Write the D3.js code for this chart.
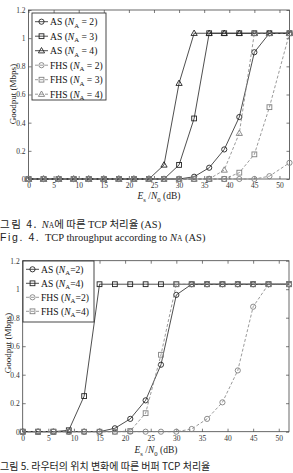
<!DOCTYPE html>
<html>
<head>
<meta charset="utf-8">
<script src="https://cdn.jsdelivr.net/npm/d3@7"></script>
<style>
  body { margin: 0; background: #fff; }
  svg { display: block; }
  .tick text { font-family: "Liberation Serif", serif; font-size: 7.5px; fill: #333; }
  .tick line, .domain { stroke: #444; stroke-width: 0.7; }
</style>
</head>
<body>
<div id="container"></div>
<script>
// x positions (Es/N0, dB), same for both figures
var snr = [0, 3, 6, 9, 12, 15, 18, 21, 24, 27, 30, 33, 36, 39, 42, 45, 48, 52];

// Fig. 4 goodput (Mbps)
var as2 = [0, 0, 0, 0, 0, 0, 0, 0, 0, 0, 0, 0.016, 0.08, 0.21, 0.44, 0.90, 1.035, 1.035];
var as3 = [0, 0, 0, 0, 0, 0, 0, 0, 0, 0, 0.10, 0.43, 1.035, 1.035, 1.035, 1.035, 1.035, 1.035];
var as4 = [0, 0, 0, 0, 0, 0, 0, 0, 0, 0.10, 0.68, 1.035, 1.035, 1.035, 1.035, 1.035, 1.035, 1.035];
var fhs2 = [0, 0, 0, 0, 0, 0, 0, 0, 0, 0, 0, 0, 0, 0, 0, 0, 0.02, 0.115];
var fhs3 = [0, 0, 0, 0, 0, 0, 0, 0, 0, 0, 0, 0, 0, 0, 0.045, 0.175, 0.51, 1.035];
var fhs4 = [0, 0, 0, 0, 0, 0, 0, 0, 0, 0, 0, 0, 0, 0.064, 0.325, 1.035, 1.035, 1.035];

// Fig. 5 goodput (Mbps)
var b_as2 = [0, 0, 0, 0, 0, 0, 0.024, 0.09, 0.22, 0.47, 0.96, 1.035, 1.035, 1.035, 1.035, 1.035, 1.035, 1.035];
var b_as4 = [0, 0, 0, 0.01, 0.25, 1.035, 1.035, 1.035, 1.035, 1.035, 1.035, 1.035, 1.035, 1.035, 1.035, 1.035, 1.035, 1.035];
var b_fhs2 = [0, 0, 0, 0, 0, 0, 0, 0, 0, 0, 0, 0.019, 0.09, 0.206, 0.43, 0.877, 1.035, 1.035];
var b_fhs4 = [0, 0, 0, 0, 0, 0, 0, 0.005, 0.13, 0.54, 1.035, 1.035, 1.035, 1.035, 1.035, 1.035, 1.035, 1.035];

var xTicks = [0, 5, 10, 15, 20, 25, 30, 35, 40, 45, 50];
var yTicks = [0, 0.2, 0.4, 0.6, 0.8, 1, 1.2];

var svg = d3.select("#container").append("svg")
    .attr("width", 293)
    .attr("height", 473);

var serif = "'Liberation Serif', 'Times New Roman', serif";

function marker(g, kind, x, y, color) {
  if (kind == "o") {
    g.append("circle").attr("cx", x).attr("cy", y).attr("r", 2.6)
      .attr("fill", "none").attr("stroke", color).attr("stroke-width", 0.9);
  } else if (kind == "s") {
    g.append("rect").attr("x", x - 2.4).attr("y", y - 2.4).attr("width", 4.8).attr("height", 4.8)
      .attr("fill", "none").attr("stroke", color).attr("stroke-width", 0.9);
  } else {
    g.append("path").attr("d", "M" + x + "," + (y - 3.2) + "L" + (x + 3.1) + "," + (y + 2.2) + "L" + (x - 3.1) + "," + (y + 2.2) + "Z")
      .attr("fill", "none").attr("stroke", color).attr("stroke-width", 0.9);
  }
}

// label like  AS (N_A = 2)
function seriesLabel(t, pre, n, spaced) {
  t.append("tspan").text(pre + " (");
  t.append("tspan").attr("font-style", "italic").text("N");
  t.append("tspan").attr("font-size", "0.7em").attr("dy", 2.5).text("A");
  t.append("tspan").attr("dy", -2.5).text(spaced ? " = " + n + ")" : "=" + n + ")");
}

function drawChart(opt) {
  var g = svg.append("g");
  var x = d3.scaleLinear().domain([0, 52]).range([opt.left, opt.right]);
  var y = d3.scaleLinear().domain([0, 1.2]).range([opt.bottom, opt.top]);

  g.append("g").attr("transform", "translate(0," + opt.bottom + ")")
    .call(d3.axisBottom(x).tickValues(xTicks).tickSizeInner(-3).tickSizeOuter(0).tickPadding(4))
    .call(a => a.select(".domain").remove());
  g.append("g").attr("transform", "translate(0," + opt.top + ")")
    .call(d3.axisTop(x).tickValues(xTicks).tickSizeInner(-3).tickSizeOuter(0).tickFormat(""))
    .call(a => a.select(".domain").remove());
  g.append("g").attr("transform", "translate(" + opt.left + ",0)")
    .call(d3.axisLeft(y).tickValues(yTicks).tickSizeInner(-3).tickSizeOuter(0).tickPadding(3).tickFormat(d3.format("")))
    .call(a => a.select(".domain").remove());
  g.append("g").attr("transform", "translate(" + opt.right + ",0)")
    .call(d3.axisRight(y).tickValues(yTicks).tickSizeInner(-3).tickSizeOuter(0).tickFormat(""))
    .call(a => a.select(".domain").remove());

  g.append("rect")
    .attr("x", opt.left).attr("y", opt.top)
    .attr("width", opt.right - opt.left).attr("height", opt.bottom - opt.top)
    .attr("fill", "none").attr("stroke", "#444").attr("stroke-width", 0.8);

  var line = d3.line().x((d, i) => x(snr[i])).y(d => y(d));

  opt.series.forEach(function (s) {
    var color = s.dash ? "#808080" : "#222";
    g.append("path").datum(s.values)
      .attr("d", line)
      .attr("fill", "none")
      .attr("stroke", color)
      .attr("stroke-width", 0.8)
      .attr("stroke-dasharray", s.dash ? "3,2" : null);
    s.values.forEach(function (v, i) {
      marker(g, s.mark, x(snr[i]), y(v), color);
    });
  });

  // legend
  var L = opt.legend;
  g.append("rect").attr("x", L.x).attr("y", L.y).attr("width", L.w).attr("height", L.h)
    .attr("fill", "#fff").attr("stroke", "#333").attr("stroke-width", 0.9);
  opt.series.forEach(function (s, i) {
    var cy = L.y + L.first + i * L.step;
    var color = s.dash ? "#808080" : "#222";
    g.append("line").attr("x1", L.x + 3).attr("x2", L.x + 16).attr("y1", cy).attr("y2", cy)
      .attr("stroke", color).attr("stroke-width", 0.8)
      .attr("stroke-dasharray", s.dash ? "3,2" : null);
    marker(g, s.mark, L.x + 9.5, cy, color);
    var t = g.append("text").attr("x", L.x + 18).attr("y", cy + 3.3)
      .attr("font-family", serif).attr("font-size", 9.6).attr("fill", "#111");
    seriesLabel(t, s.name, s.n, L.spaced);
  });

  // axis labels
  g.append("text")
    .attr("transform", "translate(" + opt.ylabX + "," + opt.ylabY + ") rotate(-90)")
    .attr("text-anchor", "middle")
    .attr("font-family", serif).attr("font-size", 9).attr("fill", "#222")
    .text("Goodput (Mbps)");

  var xl = g.append("text")
    .attr("x", opt.xlabX).attr("y", opt.xlabY)
    .attr("text-anchor", "middle")
    .attr("font-family", serif).attr("font-size", 9.5).attr("fill", "#222");
  xl.append("tspan").attr("font-style", "italic").text("E");
  xl.append("tspan").attr("font-size", "0.7em").attr("dy", 2.5).text("s");
  xl.append("tspan").attr("dy", -2.5).text(" /");
  xl.append("tspan").attr("font-style", "italic").text("N");
  xl.append("tspan").attr("font-size", "0.7em").attr("dy", 2.5).text("0");
  xl.append("tspan").attr("dy", -2.5).text(" (dB)");
}

drawChart({
  left: 28.5, right: 289.5, top: 10, bottom: 179,
  ylabX: 16, ylabY: 94, xlabX: 159, xlabY: 199,
  legend: { x: 32, y: 13, w: 74, h: 87, first: 8.7, step: 14.5, spaced: true },
  series: [
    { name: "AS", n: 2, mark: "o", dash: false, values: as2 },
    { name: "AS", n: 3, mark: "s", dash: false, values: as3 },
    { name: "AS", n: 4, mark: "t", dash: false, values: as4 },
    { name: "FHS", n: 2, mark: "o", dash: true, values: fhs2 },
    { name: "FHS", n: 3, mark: "s", dash: true, values: fhs3 },
    { name: "FHS", n: 4, mark: "t", dash: true, values: fhs4 }
  ]
});

drawChart({
  left: 22.7, right: 289, top: 260.7, bottom: 431.7,
  ylabX: 11, ylabY: 343, xlabX: 156, xlabY: 453,
  legend: { x: 23, y: 261, w: 71, h: 61, first: 8.3, step: 14, spaced: false },
  series: [
    { name: "AS", n: 2, mark: "o", dash: false, values: b_as2 },
    { name: "AS", n: 4, mark: "s", dash: false, values: b_as4 },
    { name: "FHS", n: 2, mark: "o", dash: true, values: b_fhs2 },
    { name: "FHS", n: 4, mark: "s", dash: true, values: b_fhs4 }
  ]
});

// captions
var kr = "'Noto Sans CJK KR', sans-serif";
var c1 = svg.append("text").attr("x", 0).attr("y", 228).attr("font-size", 10.5).attr("fill", "#222");
c1.append("tspan").attr("font-family", kr).attr("letter-spacing", 1.5).text("그림 4. ");
c1.append("tspan").attr("font-family", serif).attr("font-style", "italic").text("N");
c1.append("tspan").attr("font-family", serif).attr("font-size", 7.5).text("A");
c1.append("tspan").attr("font-family", kr).text("에 따른 ");
c1.append("tspan").attr("font-family", serif).text("TCP ");
c1.append("tspan").attr("font-family", kr).text("처리율 ");
c1.append("tspan").attr("font-family", serif).text("(AS)");

var c2 = svg.append("text").attr("x", 0).attr("y", 240.5).attr("font-size", 10.5).attr("fill", "#222");
c2.append("tspan").attr("font-family", "'Liberation Sans', sans-serif").attr("letter-spacing", 1.6).text("Fig. 4. ");
c2.append("tspan").attr("font-family", serif).text("TCP throughput according to ");
c2.append("tspan").attr("font-family", serif).attr("font-style", "italic").text("N");
c2.append("tspan").attr("font-family", serif).attr("font-size", 7.5).text("A");
c2.append("tspan").attr("font-family", serif).text(" (AS)");

svg.append("text").attr("x", 0).attr("y", 470).attr("font-size", 10).attr("fill", "#222")
  .attr("font-family", kr)
  .text("그림 5. 라우터의 위치 변화에 따른 버퍼 TCP 처리율");
</script>
</body>
</html>
